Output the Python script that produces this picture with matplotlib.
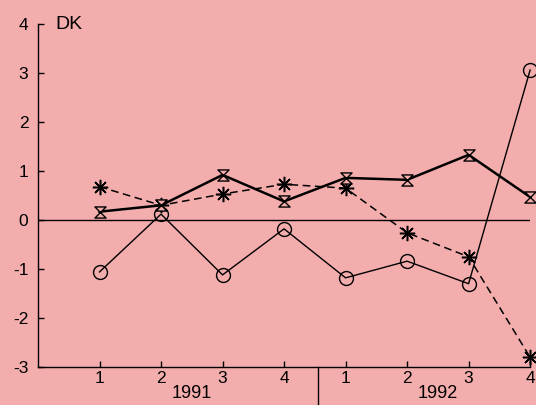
import numpy as np
import matplotlib.pyplot as plt
from matplotlib.path import Path

# quarters 1991 Q1 .. 1992 Q4
quarters = [1, 2, 3, 4, 5, 6, 7, 8]
quarter_labels = ["1", "2", "3", "4", "1", "2", "3", "4"]
years = ["1991", "1992"]

# three series
circle_vals = [-1.06, 0.12, -1.12, -0.18, -1.18, -0.84, -1.30, 3.06]
hourglass_vals = [0.17, 0.30, 0.92, 0.38, 0.86, 0.82, 1.33, 0.47]
star_vals = [0.68, 0.30, 0.53, 0.73, 0.65, -0.26, -0.75, -2.80]

bg = "#f3adac"

plt.rcParams['font.family'] = ['Liberation Sans', 'DejaVu Sans']

fig = plt.figure(figsize=(5.36, 4.05), dpi=100)
fig.patch.set_facecolor(bg)
ax = fig.add_axes([0.0709, 0.0938, 0.9181, 0.8469])
ax.set_facecolor(bg)

# hourglass marker
hourglass = Path([(-1, 1), (1, 1), (-1, -1), (1, -1), (-1, 1)],
                 [Path.MOVETO, Path.LINETO, Path.LINETO, Path.LINETO, Path.CLOSEPOLY])

ax.axhline(0, color="black", lw=1.0, zorder=1)

ax.plot(quarters, circle_vals, color="black", lw=1.0, marker="o", ms=10,
        mfc="none", mec="black", mew=1.0, clip_on=False, zorder=3)
ax.plot(quarters, hourglass_vals, color="black", lw=1.8, marker=hourglass, ms=8,
        mfc=bg, mec="black", mew=1.0, clip_on=False, zorder=4)
ax.plot(quarters, star_vals, color="black", lw=1.1, ls=(0, (5, 3)), marker=(8, 2, 0),
        ms=11, mec="black", mew=1.1, clip_on=False, zorder=3)

ax.set_xlim(0, 8)
ax.set_ylim(-3, 4)

for s in ["top", "right"]:
    ax.spines[s].set_visible(False)
ax.spines["left"].set_linewidth(1.0)
ax.spines["bottom"].set_linewidth(1.0)

ax.set_yticks(np.arange(-3, 5))
ax.set_yticklabels([str(v) for v in range(-3, 5)])
ax.set_xticks(quarters)
ax.set_xticklabels(quarter_labels)
ax.tick_params(axis="both", direction="in", length=4, width=1.0,
               labelsize=12.5, colors="black")
ax.tick_params(axis="y", pad=7)
ax.tick_params(axis="x", pad=3)

ax.text(0.28, 4, "DK", fontsize=14, va="center", ha="left")

# year labels and divider below the axis
ax.text(2.5, -3.54, years[0], fontsize=13, ha="center", va="center", clip_on=False)
ax.text(6.5, -3.54, years[1], fontsize=13, ha="center", va="center", clip_on=False)
ax.plot([4.55, 4.55], [-3, -3.8], color="black", lw=1.0, clip_on=False)

fig.savefig("out.png", dpi=100, facecolor=bg)
